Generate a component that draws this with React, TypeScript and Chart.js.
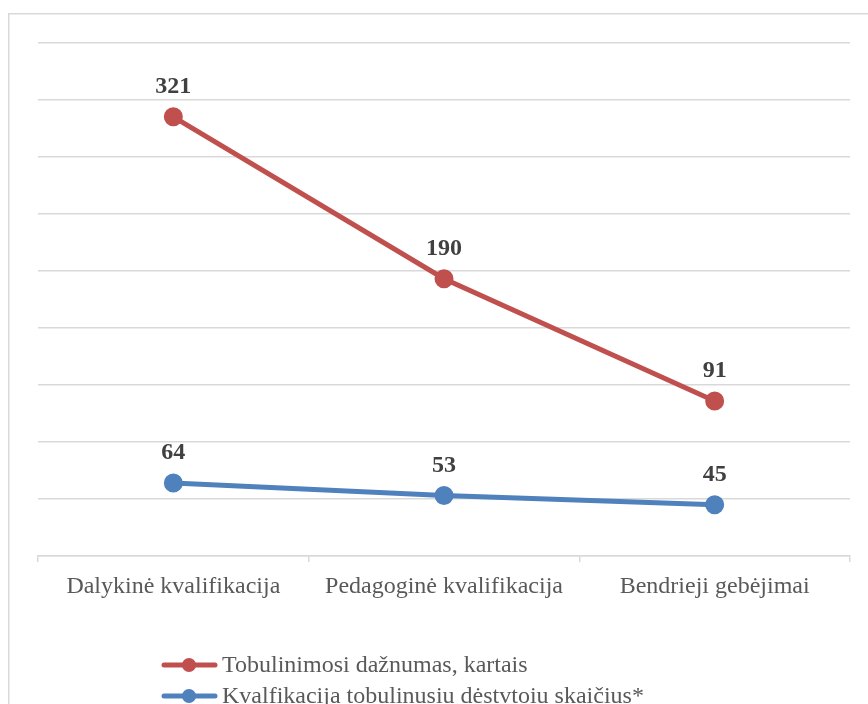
import React, { useEffect, useRef } from "react";
import { Chart, registerables } from "chart.js";

Chart.register(...registerables);

const categories = ["Dalykinė kvalifikacija", "Pedagoginė kvalifikacija", "Bendrieji gebėjimai"];
const frequencyValues = [321, 190, 91];
const teacherValues = [64, 53, 45];
const seriesLabels = ["Tobulinimosi dažnumas, kartais", "Kvalfikacija tobulinusiu dėstvtoiu skaičius*"];

const RED = "#C0504D";
const BLUE = "#4F81BD";
const FONT = "'Liberation Serif', 'Times New Roman', serif";

const decorPlugin = {
  id: "decor",
  beforeDraw(chart: any) {
    const ctx = chart.ctx;
    ctx.save();
    ctx.strokeStyle = "#d9d9d9";
    ctx.lineWidth = 1.5;
    ctx.beginPath();
    ctx.moveTo(8.75, 704);
    ctx.lineTo(8.75, 13.75);
    ctx.lineTo(868, 13.75);
    ctx.stroke();
    ctx.restore();
  },
  afterDatasetsDraw(chart: any) {
    const ctx = chart.ctx;
    ctx.save();
    // data labels
    ctx.font = `bold 24px ${FONT}`;
    ctx.fillStyle = "#404040";
    ctx.textAlign = "center";
    ctx.textBaseline = "middle";
    chart.data.datasets.forEach((ds: any, i: number) => {
      const meta = chart.getDatasetMeta(i);
      meta.data.forEach((pt: any, j: number) => {
        ctx.fillText(String(ds.data[j]), pt.x, pt.y - 30);
      });
    });
    // legend
    const ys = [665, 696];
    chart.data.datasets.forEach((ds: any, i: number) => {
      const y = ys[i];
      ctx.strokeStyle = ds.borderColor;
      ctx.lineWidth = 5;
      ctx.lineCap = "round";
      ctx.beginPath();
      ctx.moveTo(164, y);
      ctx.lineTo(215, y);
      ctx.stroke();
      ctx.fillStyle = ds.borderColor;
      ctx.beginPath();
      ctx.arc(189, y, 7, 0, Math.PI * 2);
      ctx.fill();
      ctx.fillStyle = "#595959";
      ctx.font = `24px ${FONT}`;
      ctx.textAlign = "left";
      ctx.textBaseline = "middle";
      ctx.fillText(ds.label, 222, y + 1);
    });
    ctx.restore();
  },
};

export default function App() {
  const ref = useRef<HTMLCanvasElement | null>(null);
  useEffect(() => {
    if (!ref.current) return;
    const chart = new Chart(ref.current, {
      type: "line",
      data: {
        labels: categories,
        datasets: [
          {
            label: seriesLabels[0],
            data: frequencyValues,
            borderColor: RED,
            backgroundColor: RED,
            borderWidth: 5,
            pointRadius: 7,
            pointHoverRadius: 7,
            yAxisID: "y2",
          },
          {
            label: seriesLabels[1],
            data: teacherValues,
            borderColor: BLUE,
            backgroundColor: BLUE,
            borderWidth: 5,
            pointRadius: 7,
            pointHoverRadius: 7,
            yAxisID: "y",
          },
        ],
      },
      options: {
        animation: false,
        responsive: false,
        layout: { padding: { left: 38, right: 18, top: 43, bottom: 78 } },
        plugins: { legend: { display: false }, tooltip: { enabled: false } },
        scales: {
          x: {
            offset: true,
            afterFit(scale: any) {
              scale.height = 70;
            },
            grid: {
              offset: true,
              drawOnChartArea: false,
              drawTicks: true,
              tickLength: 6,
              color: "#d9d9d9",
              lineWidth: 1.5,
            },
            border: { color: "#d9d9d9", width: 1.5 },
            ticks: {
              color: "#595959",
              padding: 10,
              font: { family: FONT, size: 24 },
              maxRotation: 0,
              autoSkip: false,
            },
          },
          y: {
            position: "left",
            min: 0,
            max: 450,
            afterFit(scale: any) {
              scale.width = 0;
            },
            ticks: { display: false, stepSize: 50 },
            grid: { color: "#d9d9d9", lineWidth: 1.5, drawTicks: false },
            border: { display: false },
          },
          y2: {
            position: "right",
            min: -34.4,
            max: 380.7,
            display: true,
            afterFit(scale: any) {
              scale.width = 0;
            },
            ticks: { display: false },
            grid: { display: false, drawTicks: false },
            border: { display: false },
          },
        },
      },
      plugins: [decorPlugin],
    });
    return () => chart.destroy();
  }, []);
  return (
    <div style={{ position: "fixed", left: 0, top: 0, width: 868, height: 704, background: "#fff" }}>
      <canvas ref={ref} width={868} height={704} style={{ display: "block" }} />
    </div>
  );
}
